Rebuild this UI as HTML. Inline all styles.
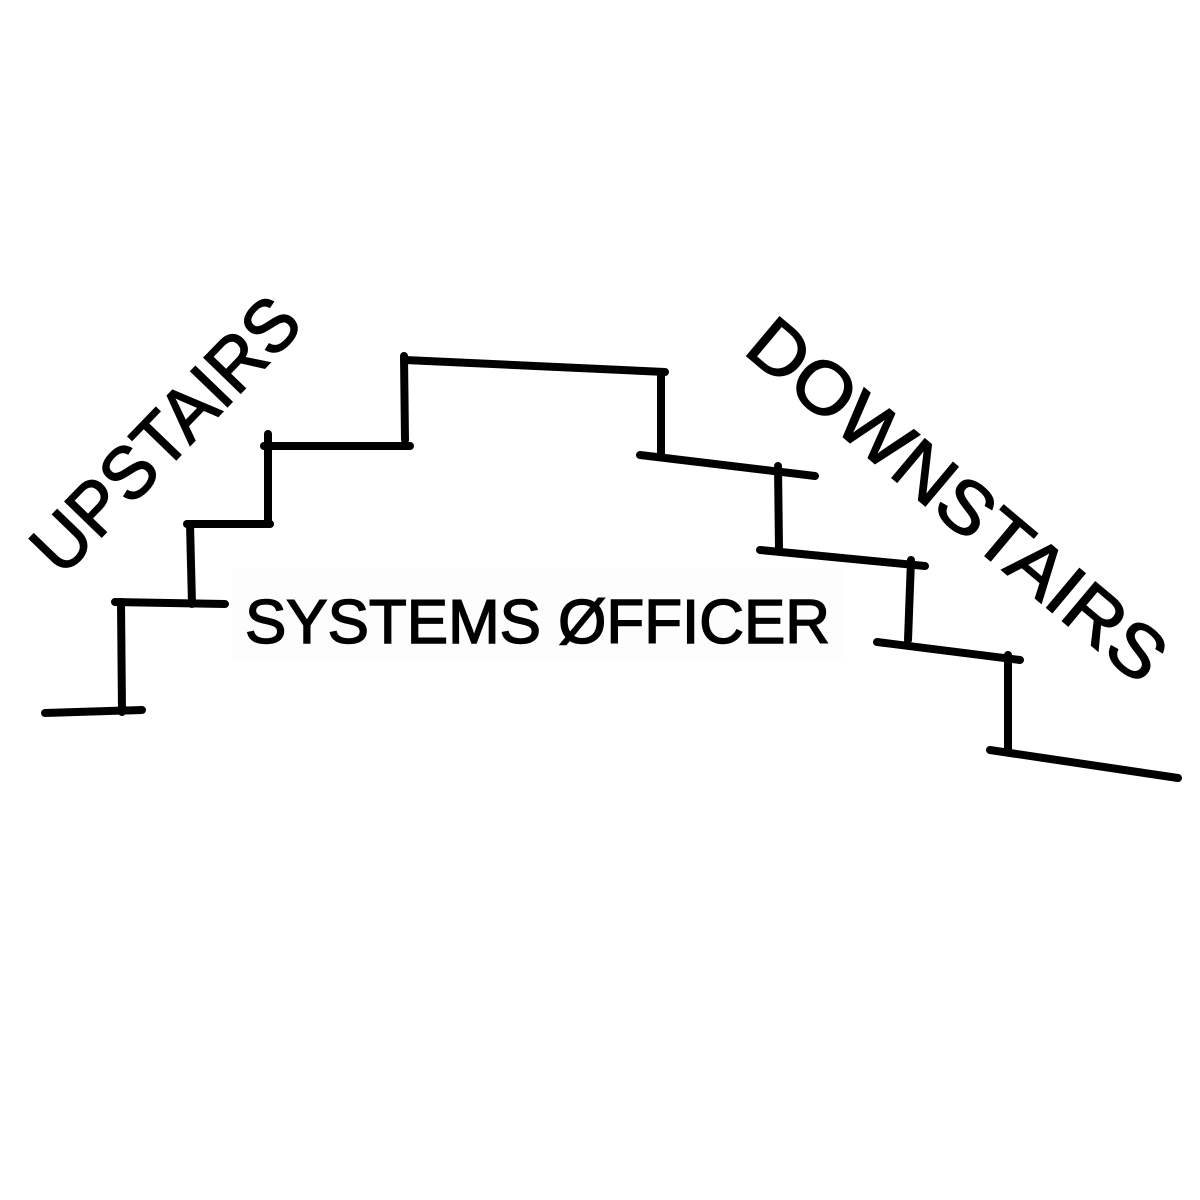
<!DOCTYPE html>
<html><head><meta charset="utf-8"><style>
html,body{margin:0;padding:0;background:#fff;}
svg{display:block}
</style></head><body>
<svg width="1200" height="1200" viewBox="0 0 1200 1200" xmlns="http://www.w3.org/2000/svg">
<rect width="1200" height="1200" fill="#fff"/>
<rect x="232" y="568" width="612" height="90" fill="#fdfdfd"/>
<g stroke="#000" stroke-width="8" stroke-linecap="round" fill="none">
<path d="M45,713 L142,710"/>
<path d="M122,712 L121,602"/>
<path d="M115,602 L225,604"/>
<path d="M192,604 L190,524"/>
<path d="M187,524 L270,524"/>
<path d="M268,524 L268,434"/>
<path d="M264,446 L410,446"/>
<path d="M405,440 L404,356"/>
<path d="M405,360 L665,372"/>
<path d="M661,372 L661,454"/>
<path d="M640,455 L815,476"/>
<path d="M778,466 L779,549"/>
<path d="M760,550 L925,566"/>
<path d="M911,560 L908,640"/>
<path d="M877,642 L1020,660"/>
<path d="M1008,655 L1008,750"/>
<path d="M990,750 L1178,778"/>
</g>
<g font-family="Liberation Sans, sans-serif" fill="#000" stroke="#000" stroke-width="1.5">
<text x="245" y="643" font-size="62" textLength="585" lengthAdjust="spacingAndGlyphs">SYSTEMS  ØFFICER</text>
<text transform="translate(62,578) rotate(-46)" font-size="74" textLength="350" lengthAdjust="spacingAndGlyphs">UPSTAIRS</text>
<text transform="translate(742,352) rotate(40)" font-size="74" textLength="520" lengthAdjust="spacingAndGlyphs">DOWNSTAIRS</text>
</g>
</svg>
</body></html>
